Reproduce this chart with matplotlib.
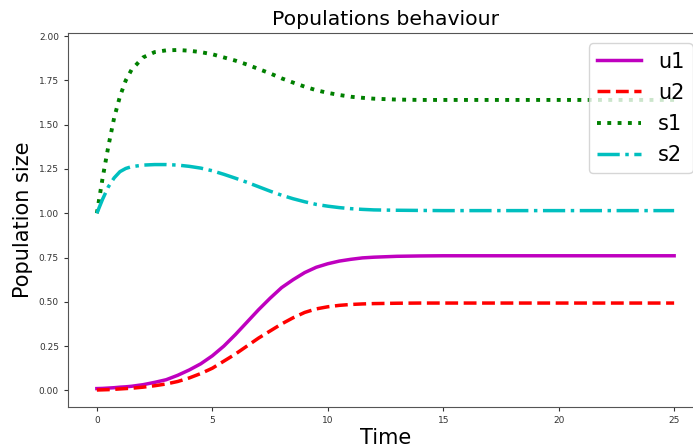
import matplotlib
matplotlib.use("Agg")
import matplotlib.pyplot as plt

# time samples and population trajectories
t = [0, 0.25, 0.5, 0.75, 1, 1.25, 1.5, 2, 2.5, 3, 3.5, 4, 4.5, 5, 5.5, 6, 6.5, 7,
     7.5, 8, 8.5, 9, 9.5, 10, 10.5, 11, 11.5, 12, 13, 14, 15, 17.5, 20, 22.5, 25]

u1 = [0.010, 0.011, 0.013, 0.015, 0.018, 0.020, 0.023, 0.032, 0.045, 0.060, 0.085,
      0.115, 0.150, 0.195, 0.250, 0.315, 0.385, 0.455, 0.520, 0.580, 0.625, 0.665,
      0.695, 0.715, 0.730, 0.740, 0.748, 0.752, 0.757, 0.759, 0.760, 0.760, 0.760,
      0.760, 0.760]

u2 = [0.002, 0.003, 0.004, 0.006, 0.008, 0.010, 0.012, 0.018, 0.026, 0.036, 0.050,
      0.070, 0.095, 0.125, 0.165, 0.205, 0.250, 0.295, 0.335, 0.375, 0.410, 0.440,
      0.460, 0.472, 0.480, 0.485, 0.488, 0.490, 0.492, 0.493, 0.493, 0.493, 0.493,
      0.493, 0.493]

s1 = [1.000, 1.200, 1.380, 1.540, 1.660, 1.750, 1.810, 1.880, 1.910, 1.920, 1.922,
      1.918, 1.910, 1.898, 1.880, 1.862, 1.840, 1.815, 1.790, 1.762, 1.738, 1.715,
      1.695, 1.680, 1.668, 1.658, 1.652, 1.647, 1.642, 1.640, 1.640, 1.640, 1.640,
      1.640, 1.640]

s2 = [1.000, 1.080, 1.150, 1.200, 1.235, 1.253, 1.263, 1.272, 1.275, 1.275, 1.272,
      1.265, 1.255, 1.240, 1.220, 1.198, 1.175, 1.150, 1.125, 1.102, 1.082, 1.065,
      1.050, 1.040, 1.032, 1.026, 1.022, 1.019, 1.017, 1.016, 1.015, 1.015, 1.015,
      1.015, 1.015]

labels = ["u1", "u2", "s1", "s2"]

fig = plt.figure(figsize=(6.93, 4.48), dpi=100)
ax = fig.add_axes([68 / 693, 1 - 407 / 448, (703 - 68) / 693, (407 - 33) / 448])

ax.plot(t, u1, color="m", linestyle="-", linewidth=2.5, label=labels[0])
ax.plot(t, u2, color="r", linestyle="--", linewidth=2.5, label=labels[1])
ax.plot(t, s1, color="g", linestyle=":", linewidth=2.8, label=labels[2])
ax.plot(t, s2, color="c", linestyle="-.", linewidth=2.5, label=labels[3])

ax.set_xticks([0, 5, 10, 15, 20, 25])
ax.tick_params(labelsize=6.5, colors="#333333", length=3)
for sp in ax.spines.values():
    sp.set_color("#555555")

ax.set_title("Populations behaviour", fontsize=14.7)
ax.set_xlabel("Time", fontsize=15, labelpad=2)
ax.set_ylabel("Population size", fontsize=15)

ax.legend(loc="upper right", fontsize=15, handlelength=2.1, labelspacing=0.53,
          borderaxespad=0.5)

fig.savefig("out.png", dpi=100)
